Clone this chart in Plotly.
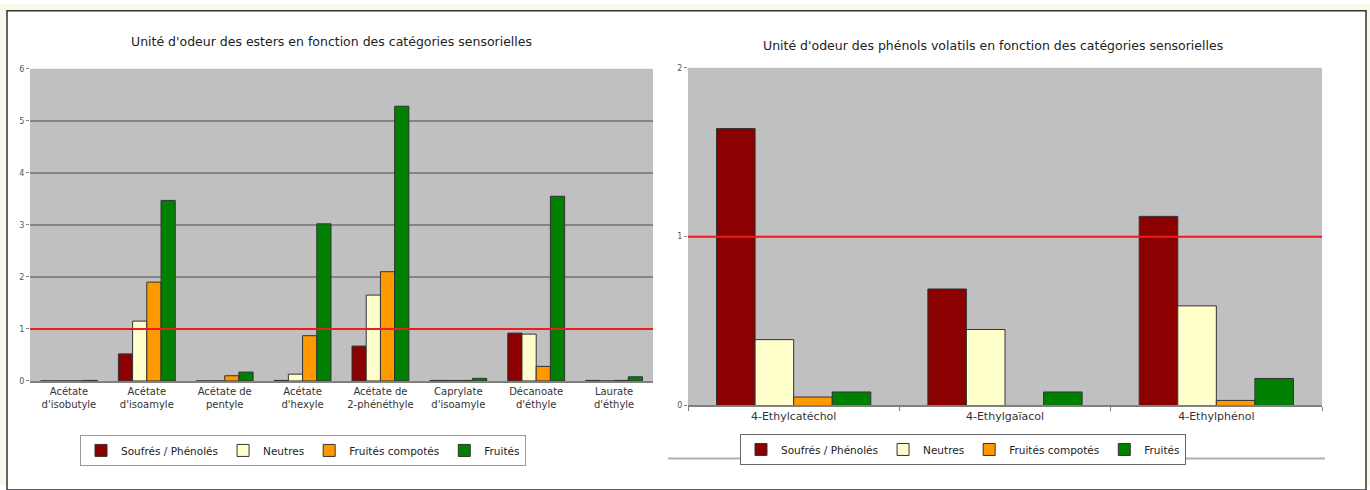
import plotly.graph_objects as go

W, H = 1370, 490

# ---------------- data ----------------
series_names = ["Soufrés / Phénolés", "Neutres", "Fruités compotés", "Fruités"]
series_colors = ["#8b0000", "#ffffcc", "#ff9900", "#008000"]

esters = ["Acétate<br>d'isobutyle", "Acétate<br>d'isoamyle", "Acétate de<br>pentyle",
          "Acétate<br>d'hexyle", "Acétate de<br>2-phénéthyle", "Caprylate<br>d'isoamyle",
          "Décanoate<br>d'éthyle", "Laurate<br>d'éthyle"]
esters_soufres = [0.0, 0.52, 0.0, 0.01, 0.67, 0.01, 0.92, 0.01]
esters_neutres = [0.0, 1.15, 0.0, 0.13, 1.65, 0.01, 0.90, 0.0]
esters_compotes = [0.0, 1.90, 0.10, 0.87, 2.10, 0.01, 0.28, 0.01]
esters_fruites = [0.01, 3.47, 0.17, 3.02, 5.28, 0.05, 3.55, 0.08]

phenols = ["4-Ethylcatéchol", "4-Ethylgaïacol", "4-Ethylphénol"]
phenols_soufres = [1.64, 0.69, 1.12]
phenols_neutres = [0.39, 0.45, 0.59]
phenols_compotes = [0.05, 0.0, 0.03]
phenols_fruites = [0.08, 0.08, 0.16]

threshold = 1
esters_ticks = [0, 1, 2, 3, 4, 5, 6]
phenols_ticks = [0, 1, 2]

# ---------------- figure ----------------
def px(x):
    return x / W

def py(y):
    return 1 - y / H

FONT = "DejaVu Sans"
PALE = "#f7f9ea"
fig = go.Figure()

ester_vals = [esters_soufres, esters_neutres, esters_compotes, esters_fruites]
phenol_vals = [phenols_soufres, phenols_neutres, phenols_compotes, phenols_fruites]

for name, col, vals in zip(series_names, series_colors, ester_vals):
    fig.add_trace(go.Bar(x=esters, y=vals, name=name, marker=dict(color=col, line=dict(color="#333333", width=1)),
                         xaxis="x", yaxis="y", legend="legend"))
for name, col, vals in zip(series_names, series_colors, phenol_vals):
    fig.add_trace(go.Bar(x=phenols, y=vals, name=name, marker=dict(color=col, line=dict(color="#333333", width=1)),
                         xaxis="x2", yaxis="y2", legend="legend2"))

fig.update_layout(
    width=W, height=H, margin=dict(l=0, r=0, t=0, b=0),
    paper_bgcolor="white", plot_bgcolor="#c0c0c0",
    barmode="group", bargap=0.27, bargroupgap=0,
    xaxis=dict(domain=[px(30), px(653)], anchor="y", showline=True, linecolor="#808080", linewidth=1.5,
               tickfont=dict(family=FONT, size=10, color="#333333"), ticks="", showgrid=False),
    yaxis=dict(domain=[py(384), py(66)], anchor="x", range=[0, 6], tickvals=esters_ticks,
               showgrid=True, gridcolor="#858585", gridwidth=1.5, zeroline=False,
               ticks="outside", ticklen=3, tickcolor="#808080", tickfont=dict(family=FONT, size=8, color="#555555")),
    xaxis2=dict(domain=[px(688), px(1322)], anchor="y2", showline=True, linecolor="#808080", linewidth=1.5,
                tickfont=dict(family=FONT, size=11, color="#333333"), ticks="outside", tickson="boundaries",
                ticklen=4, tickcolor="#808080", showgrid=False),
    yaxis2=dict(domain=[py(409), py(65)], anchor="x2", range=[0, 2], tickvals=phenols_ticks,
                showgrid=False, zeroline=False, ticks="outside", ticklen=3, tickcolor="#808080",
                tickfont=dict(family=FONT, size=8, color="#555555")),
    legend=dict(orientation="h", x=px(80), y=py(439), xanchor="left", yanchor="top",
                bgcolor="white", bordercolor="#999999", borderwidth=1,
                font=dict(family=FONT, size=10.5, color="#222222"), itemwidth=30, traceorder="normal"),
    legend2=dict(orientation="h", x=px(740), y=py(438), xanchor="left", yanchor="top",
                 bgcolor="white", bordercolor="#666666", borderwidth=1,
                 font=dict(family=FONT, size=10.5, color="#222222"), itemwidth=30, traceorder="normal"),
    showlegend=True,
)

shapes = [
    # pale page strips outside the frame
    dict(type="rect", xref="paper", yref="paper", x0=0, x1=1, y0=py(7), y1=1,
         fillcolor=PALE, line=dict(width=0), layer="below"),
    dict(type="rect", xref="paper", yref="paper", x0=0, x1=px(7), y0=0, y1=1,
         fillcolor=PALE, line=dict(width=0), layer="below"),
    dict(type="rect", xref="paper", yref="paper", x0=px(1366), x1=1, y0=0, y1=1,
         fillcolor=PALE, line=dict(width=0), layer="below"),
    # frame line
    dict(type="rect", xref="paper", yref="paper", x0=px(7), x1=px(1366), y0=py(495), y1=py(7),
         fillcolor="rgba(0,0,0,0)", line=dict(color="#333333", width=1.5), layer="below"),
    # right chart area bottom edge
    dict(type="line", xref="paper", yref="paper", x0=px(668), x1=px(1325), y0=py(463), y1=py(463),
         line=dict(color="#b0b0b0", width=2), layer="below"),
    # darker line at 2 on ester chart
    dict(type="line", xref="x domain", yref="y", x0=0, x1=1, y0=2, y1=2,
         line=dict(color="#505050", width=1.5), layer="below"),
    # threshold lines
    dict(type="line", xref="x domain", yref="y", x0=0, x1=1, y0=threshold, y1=threshold,
         line=dict(color="#ee1c1c", width=2)),
    dict(type="line", xref="x2 domain", yref="y2", x0=0, x1=1, y0=threshold, y1=threshold,
         line=dict(color="#ee1c1c", width=2)),
]
fig.update_layout(shapes=shapes)

fig.update_layout(annotations=[
    dict(text="Unité d'odeur des esters en fonction des catégories sensorielles", xref="paper", yref="paper",
         x=px(331), y=py(38), xanchor="center", yanchor="middle", showarrow=False,
         font=dict(family=FONT, size=12.5, color="#222222")),
    dict(text="Unité d'odeur des phénols volatils en fonction des catégories sensorielles", xref="paper", yref="paper",
         x=px(993), y=py(42), xanchor="center", yanchor="middle", showarrow=False,
         font=dict(family=FONT, size=12.5, color="#222222")),
])

fig.write_html("out.html")
